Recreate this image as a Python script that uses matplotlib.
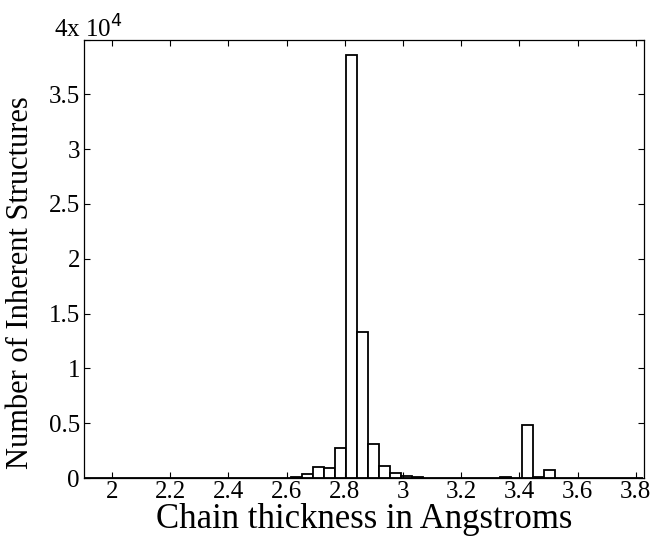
import matplotlib
matplotlib.use("Agg")
import matplotlib.pyplot as plt
import numpy as np

# Histogram data (bin left edges and counts)
bin_start = 1.896
bin_width = 0.0378
counts = [0, 0, 0, 10, 15, 10, 5, 0, 0, 0,
          0, 5, 5, 5, 5, 5, 5, 5, 10, 60,
          400, 1000, 880, 2770, 38600, 13300, 3070, 1060, 460, 150,
          50, 40, 10, 5, 5, 5, 5, 10, 60, 0,
          4850, 120, 740, 0, 0, 0, 0, 0, 0, 0,
          0]
xticks = [2, 2.2, 2.4, 2.6, 2.8, 3, 3.2, 3.4, 3.6, 3.8]
yticks = [0, 5000, 10000, 15000, 20000, 25000, 30000, 35000, 40000]
ytick_labels = ["0", "0.5", "1", "1.5", "2", "2.5", "3", "3.5", ""]

plt.rcParams['font.family'] = ['Liberation Serif', 'DejaVu Serif']

fig = plt.figure(figsize=(6.52, 5.42), dpi=100)
ax = fig.add_axes([0.129, 0.118, 0.859, 0.809])

lefts = bin_start + bin_width * np.arange(len(counts))
ax.bar(lefts, counts, width=bin_width, align='edge', facecolor='white',
       edgecolor='black', linewidth=1.3)

ax.set_xlim(1.904, 3.829)
ax.set_ylim(0, 40000)
ax.set_xticks(xticks)
ax.set_xticklabels([f"{t:g}" for t in xticks])
ax.set_yticks(yticks)
ax.set_yticklabels(ytick_labels)
ax.tick_params(direction='in', length=4, width=0.8, top=True, right=True,
               labelsize=18, pad=3)
ax.tick_params(axis='x', pad=2)
for s in ax.spines.values():
    s.set_linewidth(0.9)

ax.set_xlabel("Chain thickness in Angstroms", fontsize=25, labelpad=0)
ax.set_ylabel("Number of Inherent Structures", fontsize=22)
ax.yaxis.set_label_coords(-0.088, 0.445)

fig.text(54 / 652, 1 - 38 / 542, "4x 10$^{4}$", fontsize=18,
         ha='left', va='baseline')

fig.savefig("out.png", dpi=100)
